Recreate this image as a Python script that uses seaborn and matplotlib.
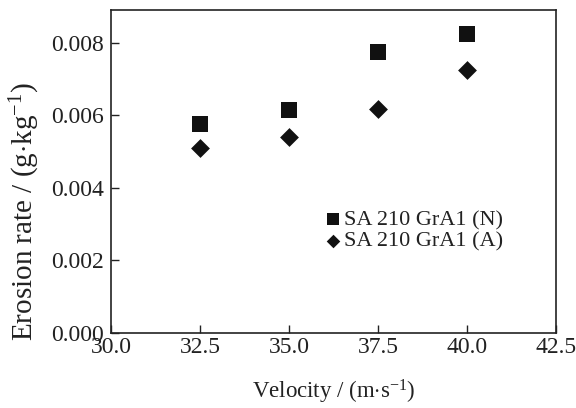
import matplotlib
matplotlib.use("Agg")
import matplotlib.pyplot as plt
import seaborn as sns
import pandas as pd

velocity = [32.5, 35.0, 37.5, 40.0]
rate_N = [0.00576, 0.00615, 0.00774, 0.00825]
rate_A = [0.00509, 0.00539, 0.00616, 0.00726]
xticks = [30.0, 32.5, 35.0, 37.5, 40.0, 42.5]
yticks = [0.000, 0.002, 0.004, 0.006, 0.008]

sns.set_style("white")
plt.rcParams['font.family'] = ['Liberation Serif', 'DejaVu Serif']
plt.rcParams['mathtext.fontset'] = 'custom'
plt.rcParams['mathtext.rm'] = 'Liberation Serif'
plt.rcParams['mathtext.it'] = 'Liberation Serif:italic'

fig = plt.figure(figsize=(5.76, 4.08), dpi=100)
ax = fig.add_axes([0.1927, 0.1838, 0.7726, 0.7917])

dfN = pd.DataFrame({"v": velocity, "r": rate_N})
dfA = pd.DataFrame({"v": velocity, "r": rate_A})
sns.scatterplot(data=dfN, x="v", y="r", marker="s", s=125, color="#111111",
                edgecolor="#111111", linewidth=0, ax=ax, label="SA 210 GrA1 (N)")
sns.scatterplot(data=dfA, x="v", y="r", marker="D", s=92, color="#111111",
                edgecolor="#111111", linewidth=0, ax=ax, label="SA 210 GrA1 (A)")

ax.set_xlim(30.0, 42.5)
ax.set_ylim(0.0, 0.0089)
ax.set_xticks(xticks)
ax.set_xticklabels([f"{t:.1f}" for t in xticks])
ax.set_yticks(yticks)
ax.set_yticklabels([f"{t:.3f}" for t in yticks])
ax.tick_params(direction="in", length=6, width=1, labelsize=17,
               bottom=True, left=True, top=False, right=False, colors="#222222")
ax.tick_params(axis="x", pad=3)
ax.tick_params(axis="y", pad=5)
for sp in ax.spines.values():
    sp.set_color("#222222")
    sp.set_linewidth(1.2)

ax.set_xlabel("Velocity / (m$\\cdot$s$^{-1}$)", fontsize=16.5, labelpad=14, color="#222222")
ax.set_ylabel("Erosion rate / (g$\\cdot$kg$^{-1}$)", fontsize=21, color="#222222")
ax.yaxis.set_label_coords(-0.155, 0.376)

leg = ax.legend(loc="upper left", bbox_to_anchor=(0.453, 0.41), frameon=False,
                fontsize=16, markerscale=0.72, handletextpad=0.0, labelspacing=0.05,
                borderaxespad=0, handlelength=1.0)
for t in leg.get_texts():
    t.set_color("#222222")

fig.savefig("out.png", dpi=100)
